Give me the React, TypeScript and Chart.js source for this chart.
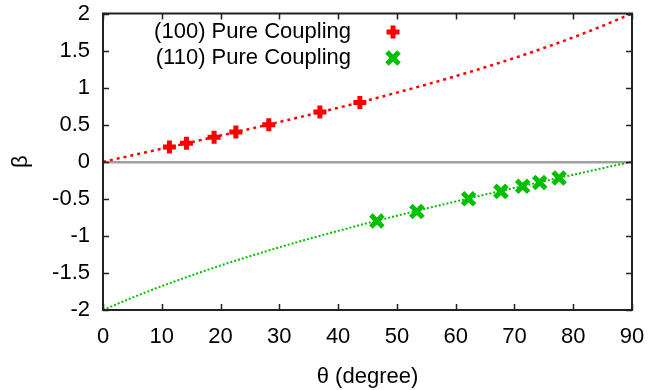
import React, { useEffect, useRef } from "react";
import { Chart, registerables } from "chart.js";

Chart.register(...registerables);

const curveTheta = [0, 5, 10, 15, 20, 25, 30, 35, 40, 45, 50, 55, 60, 65, 70, 75, 80, 85, 90];
const redCurve = [0, 0.087, 0.175, 0.263, 0.353, 0.443, 0.536, 0.631, 0.728, 0.828, 0.933, 1.041, 1.155, 1.274, 1.4, 1.535, 1.678, 1.833, 2.0];
const greenCurve = [-2.0, -1.833, -1.678, -1.535, -1.4, -1.274, -1.155, -1.041, -0.933, -0.828, -0.728, -0.631, -0.536, -0.443, -0.353, -0.263, -0.175, -0.087, 0];

const redTheta = [11.3, 14.2, 18.9, 22.6, 28.2, 36.9, 43.7];
const redBeta = [0.2, 0.25, 0.33, 0.4, 0.5, 0.67, 0.8];
const greenTheta = [46.6, 53.4, 62.2, 67.7, 71.4, 74.3, 77.6];
const greenBeta = [-0.8, -0.67, -0.5, -0.4, -0.33, -0.28, -0.22];

const legendLabels = ["(100) Pure Coupling", "(110) Pure Coupling"];
const xTitle = "θ (degree)";
const yTitle = "β";

const RED = "#ff0000";
const GREEN = "#00c000";
const FONT = "'Liberation Sans', Arial, sans-serif";
const FS = 22;

const zip = (xs: number[], ys: number[]) => xs.map((x, i) => ({ x, y: ys[i] }));

export default function App() {
  const ref = useRef<HTMLCanvasElement | null>(null);
  useEffect(() => {
    document.body.style.margin = "0";
    const canvas = ref.current!;
    const framePlugin = {
      id: "frame",
      afterDatasetsDraw(chart: any) {
        const { ctx, chartArea: a } = chart;
        const xs = chart.scales.x;
        const ys = chart.scales.y;
        ctx.save();
        ctx.strokeStyle = "#222";
        ctx.lineWidth = 1.5;
        const tl = 6;
        ctx.beginPath();
        xs.ticks.forEach((t: any) => {
          const px = Math.round(xs.getPixelForValue(t.value)) + 0.5;
          ctx.moveTo(px, a.bottom);
          ctx.lineTo(px, a.bottom - tl);
          ctx.moveTo(px, a.top);
          ctx.lineTo(px, a.top + tl);
        });
        ys.ticks.forEach((t: any) => {
          const py = Math.round(ys.getPixelForValue(t.value)) + 0.5;
          ctx.moveTo(a.left, py);
          ctx.lineTo(a.left + tl, py);
          ctx.moveTo(a.right, py);
          ctx.lineTo(a.right - tl, py);
        });
        ctx.stroke();
        ctx.lineWidth = 2;
        ctx.strokeStyle = "#222";
        ctx.strokeRect(a.left, a.top, a.right - a.left, a.bottom - a.top);
        // legend
        ctx.font = `${FS}px ${FONT}`;
        ctx.textAlign = "right";
        ctx.textBaseline = "middle";
        const mx = 393;
        const rows = [
          { y: 32, color: RED, style: "cross", r: 6.5, label: legendLabels[0] },
          { y: 58, color: GREEN, style: "crossRot", r: 8.5, label: legendLabels[1] },
        ];
        rows.forEach((row) => {
          ctx.fillStyle = "#000";
          ctx.fillText(row.label, 351, row.y);
          ctx.strokeStyle = row.color;
          ctx.lineWidth = 5;
          ctx.beginPath();
          if (row.style === "cross") {
            ctx.moveTo(mx - row.r, row.y);
            ctx.lineTo(mx + row.r, row.y);
            ctx.moveTo(mx, row.y - row.r);
            ctx.lineTo(mx, row.y + row.r);
          } else {
            const d = row.r * 0.7071;
            ctx.moveTo(mx - d, row.y - d);
            ctx.lineTo(mx + d, row.y + d);
            ctx.moveTo(mx - d, row.y + d);
            ctx.lineTo(mx + d, row.y - d);
          }
          ctx.stroke();
        });
        ctx.restore();
      },
    };

    const chart = new Chart(canvas, {
      type: "scatter",
      data: {
        datasets: [
          {
            data: zip(redTheta, redBeta),
            pointStyle: "cross",
            pointRadius: 6.5,
            pointBorderWidth: 5,
            borderColor: RED,
            backgroundColor: RED,
            showLine: false,
          } as any,
          {
            data: zip(greenTheta, greenBeta),
            pointStyle: "crossRot",
            pointRadius: 8.5,
            pointBorderWidth: 5,
            borderColor: GREEN,
            backgroundColor: GREEN,
            showLine: false,
          } as any,
          {
            data: zip(curveTheta, redCurve),
            showLine: true,
            pointRadius: 0,
            borderColor: RED,
            borderWidth: 2.5,
            borderDash: [3, 4],
            cubicInterpolationMode: "monotone",
          } as any,
          {
            data: zip(curveTheta, greenCurve),
            showLine: true,
            pointRadius: 0,
            borderColor: GREEN,
            borderWidth: 2,
            borderDash: [2, 2],
            cubicInterpolationMode: "monotone",
          } as any,
        ],
      },
      options: {
        animation: false,
        responsive: false,
        layout: { padding: { top: 13, right: 20, left: 8, bottom: 0 } },
        plugins: { legend: { display: false }, tooltip: { enabled: false } },
        scales: {
          x: {
            type: "linear",
            min: 0,
            max: 90,
            ticks: { stepSize: 10, color: "#000", font: { family: FONT, size: FS }, padding: 14, maxRotation: 0 },
            grid: { display: false, drawTicks: false },
            border: { display: false },
            title: { display: true, text: xTitle, color: "#000", font: { family: FONT, size: FS }, padding: { top: 5, bottom: 0 } },
            afterFit: (s: any) => {
              s.height = 80;
              s.paddingLeft = 0;
              s.paddingRight = 0;
            },
          },
          y: {
            type: "linear",
            min: -2,
            max: 2,
            ticks: {
              stepSize: 0.5,
              color: "#000",
              font: { family: FONT, size: FS },
              padding: 13,
              callback: (v: any) => String(Math.round(Number(v) * 10) / 10),
            },
            grid: {
              drawTicks: false,
              color: (c: any) => (c.tick && c.tick.value === 0 ? "#a0a0a0" : "rgba(0,0,0,0)"),
              lineWidth: 2.5,
            },
            border: { display: false },
            title: { display: true, text: yTitle, color: "#000", font: { family: FONT, size: FS }, padding: { top: 0, bottom: 0 } },
            afterFit: (s: any) => {
              s.width = 95;
              s.paddingTop = 0;
              s.paddingBottom = 0;
            },
          },
        },
      },
      plugins: [framePlugin],
    } as any);
    return () => chart.destroy();
  }, []);
  return (
    <div style={{ width: 652, height: 390 }}>
      <canvas ref={ref} width={652} height={390} style={{ display: "block" }} />
    </div>
  );
}
